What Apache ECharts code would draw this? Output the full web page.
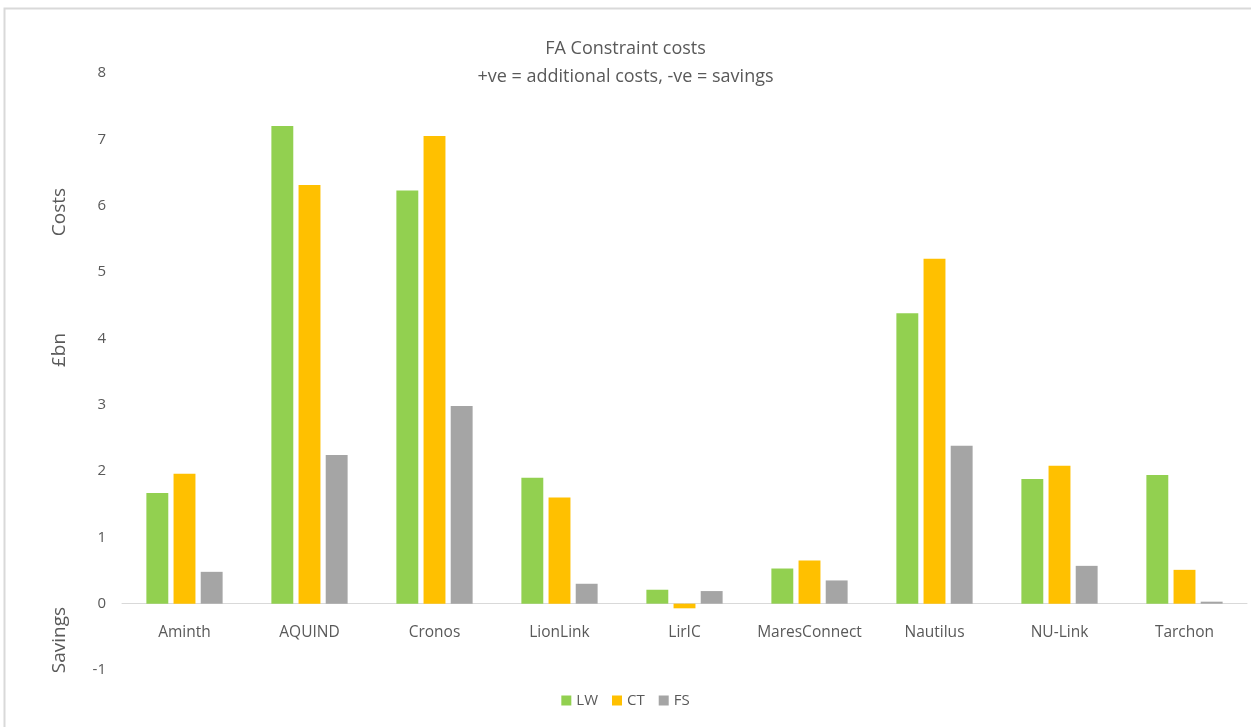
<!DOCTYPE html>
<html><head><meta charset="utf-8">
<script src="https://cdn.jsdelivr.net/npm/echarts@6/dist/echarts.min.js"></script>
<style>html,body{margin:0;padding:0;background:#fff}#c{width:1251px;height:727px}</style>
</head><body><div id="c"></div>
<script>
const categories = ['Aminth','AQUIND','Cronos','LionLink','LirIC','MaresConnect','Nautilus','NU-Link','Tarchon'];
const seriesNames = ['LW','CT','FS'];
const lwValues = [1.67, 7.2, 6.23, 1.9, 0.21, 0.53, 4.38, 1.88, 1.94];
const ctValues = [1.96, 6.31, 7.05, 1.6, -0.07, 0.65, 5.2, 2.08, 0.51];
const fsValues = [0.48, 2.24, 2.98, 0.3, 0.19, 0.35, 2.38, 0.57, 0.03];
const colors = ['#92D050','#FFC000','#A5A5A5'];
const font = 'Open Sans';
const chart = echarts.init(document.getElementById('c'));
chart.setOption({
  animation:false,
  textStyle:{fontFamily:font},
  title:{text:'FA Constraint costs\n+ve = additional costs, -ve = savings', left:'center', top:30,
    textStyle:{fontFamily:font, fontSize:18, fontWeight:'normal', color:'#595959', lineHeight:28}},
  legend:{data:seriesNames, bottom:14, left:'center', itemWidth:10, itemHeight:10, itemGap:14, icon:'rect',
    textStyle:{fontFamily:font, fontSize:15, color:'#595959'}},
  grid:{left:122, right:4, top:73, bottom:57, containLabel:false},
  xAxis:{type:'category', data:categories,
    axisLine:{onZero:true, lineStyle:{color:'#D9D9D9', width:1}}, axisTick:{show:false},
    axisLabel:{color:'#595959', fontSize:15.5, margin:-45, interval:0, fontFamily:font}},
  yAxis:{type:'value', min:-1, max:8, interval:1, splitLine:{show:false}, axisLine:{show:false}, axisTick:{show:false},
    axisLabel:{color:'#595959', fontSize:15, margin:16, fontFamily:font}},
  series:[
    {name:'LW', type:'bar', data:lwValues, itemStyle:{color:colors[0]}, barGap:'24%', barCategoryGap:'39%'},
    {name:'CT', type:'bar', data:ctValues, itemStyle:{color:colors[1]}},
    {name:'FS', type:'bar', data:fsValues, itemStyle:{color:colors[2]}}
  ],
  graphic:[
    {type:'rect', left:2, top:6, shape:{width:1260, height:740}, style:{fill:'none', stroke:'#D9D9D9', lineWidth:2}, silent:true, z:-1},
    {type:'text', x:60, y:212, rotation:Math.PI/2, style:{text:'Costs', fill:'#595959', font:'19px "Open Sans"', textAlign:'center', textVerticalAlign:'middle'}},
    {type:'text', x:60, y:350, rotation:Math.PI/2, style:{text:'£bn', fill:'#595959', font:'19px "Open Sans"', textAlign:'center', textVerticalAlign:'middle'}},
    {type:'text', x:60, y:640, rotation:Math.PI/2, style:{text:'Savings', fill:'#595959', font:'19px "Open Sans"', textAlign:'center', textVerticalAlign:'middle'}}
  ]
});
</script></body></html>
